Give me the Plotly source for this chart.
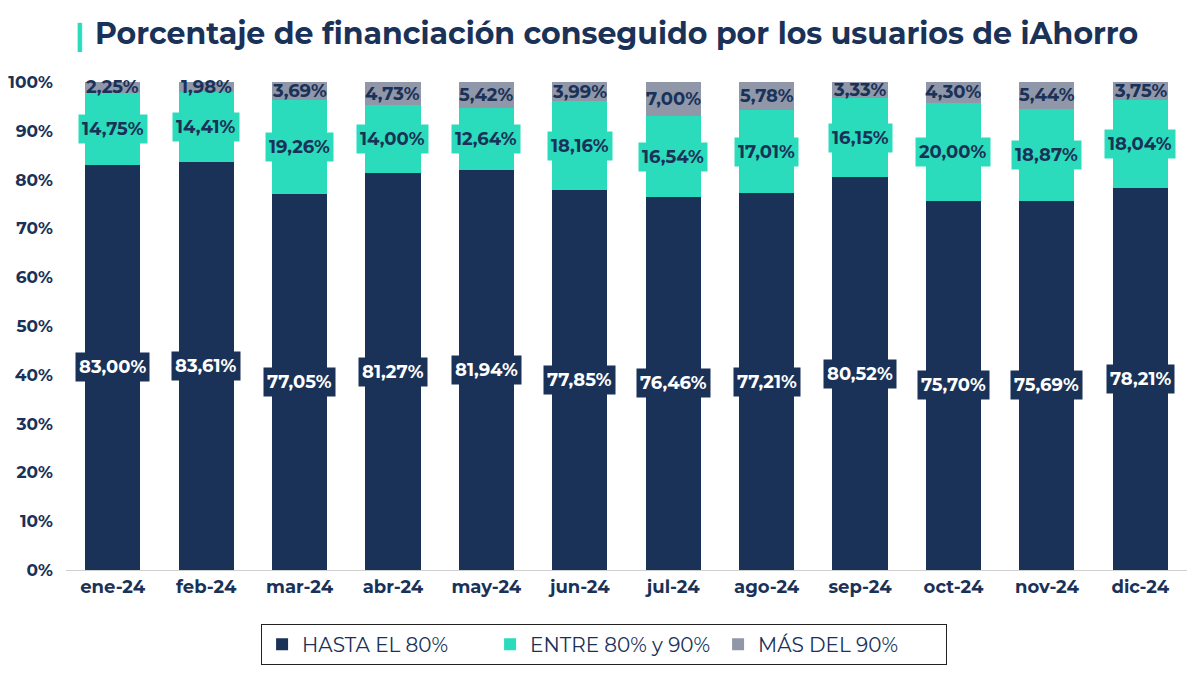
import plotly.graph_objects as go

# monthly data (percent of users by financing level)
meses = ["ene-24", "feb-24", "mar-24", "abr-24", "may-24", "jun-24",
         "jul-24", "ago-24", "sep-24", "oct-24", "nov-24", "dic-24"]
hasta_80 = [83.00, 83.61, 77.05, 81.27, 81.94, 77.85, 76.46, 77.21, 80.52, 75.70, 75.69, 78.21]
entre_80_90 = [14.75, 14.41, 19.26, 14.00, 12.64, 18.16, 16.54, 17.01, 16.15, 20.00, 18.87, 18.04]
mas_90 = [2.25, 1.98, 3.69, 4.73, 5.42, 3.99, 7.00, 5.78, 3.33, 4.30, 5.44, 3.75]

NAVY = "#1a3158"
TEAL = "#2adcbb"
GREY = "#8f97a8"
FONT = "Montserrat, 'Open Sans', Lato, sans-serif"

def fmt(v):
    return f"{v:.2f}%".replace(".", ",")

fig = go.Figure()
series = [("HASTA EL 80%", hasta_80, NAVY),
          ("ENTRE 80% y 90%", entre_80_90, TEAL),
          ("MÁS DEL 90%", mas_90, GREY)]
for name, vals, col in series:
    fig.add_trace(go.Bar(x=meses, y=vals, name=name, marker_color=col,
                         marker_line_width=0, hoverinfo="skip"))

# data labels centred in each segment, with a box in the segment colour
annots = []
for i, m in enumerate(meses):
    base = 0
    for name, vals, col in series:
        v = vals[i]
        mid = base + v / 2
        base += v
        if col == NAVY:
            fc, bg = "white", NAVY
        elif col == TEAL:
            fc, bg = NAVY, TEAL
        else:
            fc, bg = NAVY, None
        a = dict(x=m, y=mid, text="<b>" + fmt(v) + "</b>", showarrow=False,
                 font=dict(family=FONT, size=18, color=fc), borderpad=3)
        if bg:
            a["bgcolor"] = bg
        annots.append(a)

# title with teal bar
annots.append(dict(xref="paper", yref="paper", x=0.006, y=1.137, xanchor="left",
                   text="<b>|</b>", showarrow=False,
                   font=dict(family=FONT, size=30, color=TEAL)))
annots.append(dict(xref="paper", yref="paper", x=0.024, y=1.142, xanchor="left",
                   text="<b>Porcentaje de financiación conseguido por los usuarios de iAhorro</b>",
                   showarrow=False, font=dict(family=FONT, size=30, color=NAVY)))

fig.update_layout(
    barmode="stack", bargap=0.41,
    width=1200, height=675,
    margin=dict(l=58, r=21, t=74, b=113, autoexpand=False),
    plot_bgcolor="white", paper_bgcolor="white",
    font=dict(family=FONT, color=NAVY),
    annotations=annots,
    legend=dict(orientation="h", x=0.48, xanchor="center", y=-0.11, yanchor="top",
                traceorder="normal",
                bordercolor="#222222", borderwidth=1,
                font=dict(family=FONT, size=20, color=NAVY),
                itemwidth=30, entrywidth=183),
    showlegend=True,
)
fig.update_xaxes(showline=True, linecolor="#d0d0d0", linewidth=1,
                 tickfont=dict(family=FONT, size=18, color=NAVY), ticks="")
fig.update_yaxes(range=[0, 100], showgrid=False, automargin=False, ticklabelstandoff=12,
                 tickfont=dict(family=FONT, size=17, color=NAVY), zeroline=False)
# bold tick labels
fig.update_xaxes(tickvals=meses, ticktext=["<b>" + m + "</b>" for m in meses])
fig.update_yaxes(tickvals=list(range(0, 101, 10)),
                 ticktext=["<b>" + str(t) + "%</b>" for t in range(0, 101, 10)])

fig.write_html("out.html")
